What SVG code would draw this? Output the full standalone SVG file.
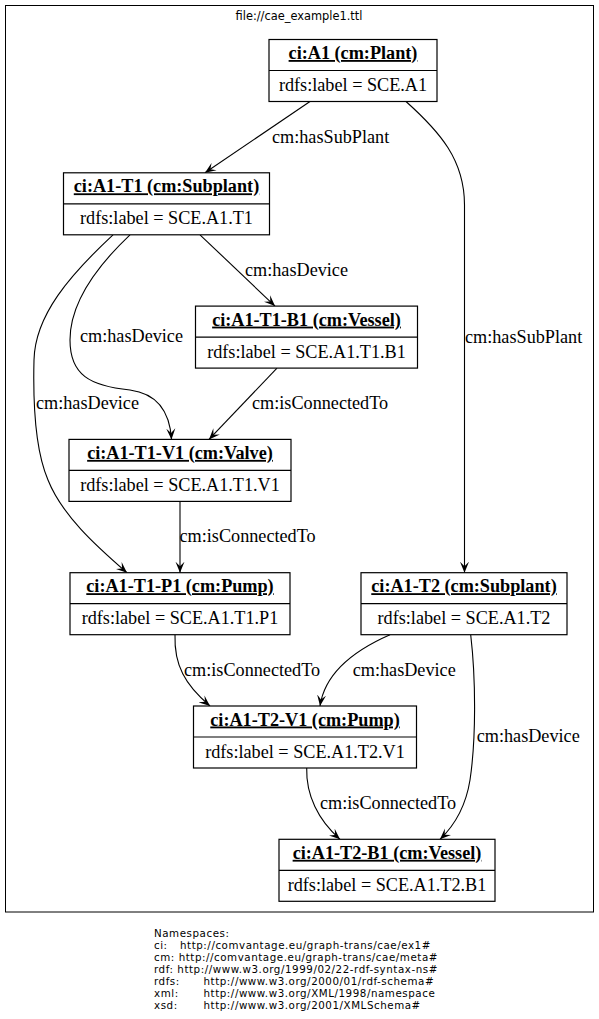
<svg xmlns="http://www.w3.org/2000/svg" width="599" height="1019" viewBox="0 0 599 1019">
<style>
.bg{fill:#fff}
.frame{fill:none;stroke:#000;stroke-width:1}
.box{fill:#fff;stroke:#000;stroke-width:1.2}
.div{stroke:#000;stroke-width:1.2}
.hdr{font-family:"Liberation Serif","Times New Roman",serif;font-size:18.2px;font-weight:bold;text-decoration:underline;text-anchor:middle;fill:#000}
.body{font-family:"Liberation Serif","Times New Roman",serif;font-size:18.2px;text-anchor:middle;fill:#000}
.el{font-family:"Liberation Serif","Times New Roman",serif;font-size:18.2px;fill:#000}
.edge{fill:none;stroke:#000;stroke-width:1.1;marker-end:url(#arr)}
.sans{font-family:"DejaVu Sans",Verdana,sans-serif;font-size:11.4px;fill:#000}
.ns{font-family:"DejaVu Sans",Verdana,sans-serif;font-size:10.3px;letter-spacing:0.55px;fill:#000}
</style>
<defs>
<marker id="arr" markerWidth="12" markerHeight="10" refX="11" refY="5" orient="auto" markerUnits="userSpaceOnUse">
<path d="M0,0.5 L11,5 L0,9.5 L4.5,5 z" fill="#000"/>
</marker>
</defs>
<rect class="bg" x="0" y="0" width="599" height="1019"/>
<g id="frame">
<rect class="frame" x="5.5" y="5.5" width="588" height="906.5"/>
<text class="sans" x="299" y="20" text-anchor="middle">file://cae_example1.ttl</text>
</g>
<g id="connectors">
<path class="edge" d="M310,101.5 L205,172.8"/>
<path class="edge" d="M406,101.5 C440,132 464.5,160 464.5,205 L464.5,572.7"/>
<path class="edge" d="M200,234.8 L275,306.1"/>
<path class="edge" d="M130,234.8 C95,268 70,305 70,340 C70,375 90,386 130,390 C160,394 170,415 171.5,439.4"/>
<path class="edge" d="M113,234.8 C70,275 35,315 34,360 C33,400 35,450 48,480 C62,515 95,545 127,572.7"/>
<path class="edge" d="M277,368.1 L209,439.4"/>
<path class="edge" d="M180,501.4 L180,572.7"/>
<path class="edge" d="M175,634.7 C174,665 185,685 210,706"/>
<path class="edge" d="M390,634.7 C355,650 325,672 320,706"/>
<path class="edge" d="M470.7,634.7 C476,680 476,740 470,780 C466,805 455,825 440,839.3"/>
<path class="edge" d="M306.7,768 C306,795 318,820 340,839.3"/>
<text class="el" x="272" y="142.5">cm:hasSubPlant</text>
<text class="el" x="465" y="342.5">cm:hasSubPlant</text>
<text class="el" x="245" y="275.8">cm:hasDevice</text>
<text class="el" x="80" y="342">cm:hasDevice</text>
<text class="el" x="36" y="408.5">cm:hasDevice</text>
<text class="el" x="252" y="408.5">cm:isConnectedTo</text>
<text class="el" x="179.5" y="542">cm:isConnectedTo</text>
<text class="el" x="184" y="675.5">cm:isConnectedTo</text>
<text class="el" x="352.7" y="675.5">cm:hasDevice</text>
<text class="el" x="476.7" y="742">cm:hasDevice</text>
<text class="el" x="320" y="808.5">cm:isConnectedTo</text>
</g>
<g id="A1">
<rect class="box" x="269" y="39.5" width="168" height="62"/>
<line class="div" x1="269" y1="70.5" x2="437" y2="70.5"/>
<text class="hdr" x="353" y="59">ci:A1 (cm:Plant)</text>
<text class="body" x="353" y="91">rdfs:label = SCE.A1</text>
</g>
<g id="A1-T1">
<rect class="box" x="63.5" y="172.8" width="206" height="62"/>
<line class="div" x1="63.5" y1="203.8" x2="269.5" y2="203.8"/>
<text class="hdr" x="166.5" y="192.3">ci:A1-T1 (cm:Subplant)</text>
<text class="body" x="166.5" y="224.3">rdfs:label = SCE.A1.T1</text>
</g>
<g id="A1-T1-B1">
<rect class="box" x="195.5" y="306.1" width="222" height="62"/>
<line class="div" x1="195.5" y1="337.1" x2="417.5" y2="337.1"/>
<text class="hdr" x="306.5" y="325.6">ci:A1-T1-B1 (cm:Vessel)</text>
<text class="body" x="306.5" y="357.6">rdfs:label = SCE.A1.T1.B1</text>
</g>
<g id="A1-T1-V1">
<rect class="box" x="69" y="439.4" width="222" height="62"/>
<line class="div" x1="69" y1="470.4" x2="291" y2="470.4"/>
<text class="hdr" x="180" y="458.9">ci:A1-T1-V1 (cm:Valve)</text>
<text class="body" x="180" y="490.9">rdfs:label = SCE.A1.T1.V1</text>
</g>
<g id="A1-T1-P1">
<rect class="box" x="70" y="572.7" width="220" height="62"/>
<line class="div" x1="70" y1="603.7" x2="290" y2="603.7"/>
<text class="hdr" x="180" y="592.2">ci:A1-T1-P1 (cm:Pump)</text>
<text class="body" x="180" y="624.2">rdfs:label = SCE.A1.T1.P1</text>
</g>
<g id="A1-T2">
<rect class="box" x="361" y="572.7" width="206" height="62"/>
<line class="div" x1="361" y1="603.7" x2="567" y2="603.7"/>
<text class="hdr" x="464" y="592.2">ci:A1-T2 (cm:Subplant)</text>
<text class="body" x="464" y="624.2">rdfs:label = SCE.A1.T2</text>
</g>
<g id="A1-T2-V1">
<rect class="box" x="193.5" y="706" width="223" height="62"/>
<line class="div" x1="193.5" y1="737" x2="416.5" y2="737"/>
<text class="hdr" x="305" y="725.5">ci:A1-T2-V1 (cm:Pump)</text>
<text class="body" x="305" y="757.5">rdfs:label = SCE.A1.T2.V1</text>
</g>
<g id="A1-T2-B1">
<rect class="box" x="279" y="839.3" width="216" height="62"/>
<line class="div" x1="279" y1="870.3" x2="495" y2="870.3"/>
<text class="hdr" x="387" y="858.8">ci:A1-T2-B1 (cm:Vessel)</text>
<text class="body" x="387" y="890.8">rdfs:label = SCE.A1.T2.B1</text>
</g>
<g id="namespaces">
<text class="ns" x="154" y="937">Namespaces:</text>
<text class="ns" x="154" y="949">ci:<tspan x="180">http://comvantage.eu/graph-trans/cae/ex1#</tspan></text>
<text class="ns" x="154" y="961">cm: http://comvantage.eu/graph-trans/cae/meta#</text>
<text class="ns" x="154" y="973">rdf: http://www.w3.org/1999/02/22-rdf-syntax-ns#</text>
<text class="ns" x="154" y="985">rdfs:<tspan x="203.5">http://www.w3.org/2000/01/rdf-schema#</tspan></text>
<text class="ns" x="154" y="997">xml:<tspan x="203.5">http://www.w3.org/XML/1998/namespace</tspan></text>
<text class="ns" x="154" y="1009">xsd:<tspan x="203.5">http://www.w3.org/2001/XMLSchema#</tspan></text>
</g>
</svg>
